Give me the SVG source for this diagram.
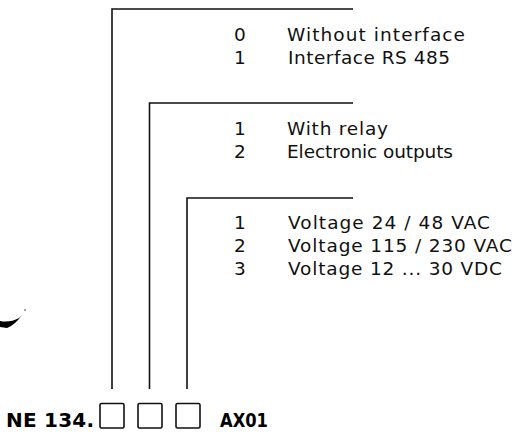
<svg xmlns="http://www.w3.org/2000/svg" width="518" height="439" viewBox="0 0 518 439">
<style>
.t{font-family:"DejaVu Sans","Liberation Sans",Arial,sans-serif;font-size:18.5px;fill:#111;}
.d{font-family:"DejaVu Sans","Liberation Sans",Arial,sans-serif;font-size:18.5px;fill:#111;text-anchor:middle;}
.b{font-family:"DejaVu Sans","Liberation Sans",Arial,sans-serif;font-size:20px;font-weight:bold;fill:#000;}
.ln{stroke:#111;stroke-width:1.6;fill:none;}
.box{stroke:#111;stroke-width:1.6;fill:#fff;}
</style>
<rect width="518" height="439" fill="#fff"/>
<g id="connectors">
<polyline class="ln" points="112,389 112,9 353,9"/>
<polyline class="ln" points="149.5,389 149.5,103 353,103"/>
<polyline class="ln" points="187,389 187,198 353,198"/>
</g>
<g id="interface">
<text class="d" x="240" y="41">0</text>
<text class="t" x="287" y="41" textLength="178" lengthAdjust="spacing">Without interface</text>
<text class="d" x="240" y="64">1</text>
<text class="t" x="288" y="64" textLength="162" lengthAdjust="spacing">Interface RS 485</text>
</g>
<g id="outputs">
<text class="d" x="240" y="135">1</text>
<text class="t" x="287" y="135" textLength="101" lengthAdjust="spacing">With relay</text>
<text class="d" x="240" y="158">2</text>
<text class="t" x="287" y="158" textLength="166" lengthAdjust="spacing">Electronic outputs</text>
</g>
<g id="voltage">
<text class="d" x="240" y="229">1</text>
<text class="t" x="288" y="229" textLength="202" lengthAdjust="spacing">Voltage 24 / 48 VAC</text>
<text class="d" x="240" y="252">2</text>
<text class="t" x="288" y="252" textLength="224" lengthAdjust="spacing">Voltage 115 / 230 VAC</text>
<text class="d" x="240" y="275">3</text>
<text class="t" x="288" y="275" textLength="214" lengthAdjust="spacing">Voltage 12 ... 30 VDC</text>
</g>
<g id="code">
<text class="b" x="6" y="427" textLength="88" lengthAdjust="spacing">NE 134.</text>
<rect class="box" x="100" y="403.5" width="24" height="24.5" rx="1.5"/>
<rect class="box" x="138" y="403.5" width="24" height="24.5" rx="1.5"/>
<rect class="box" x="176" y="403.5" width="24" height="24.5" rx="1.5"/>
<text class="b" x="220" y="427" textLength="48" lengthAdjust="spacingAndGlyphs">AX01</text>
</g>
<path d="M0,321 Q10,323 19,318 L22,315 Q15,325 7,328 L0,327 Z" fill="#000"/>
<circle cx="25" cy="310" r="0.7" fill="#000"/>
</svg>
